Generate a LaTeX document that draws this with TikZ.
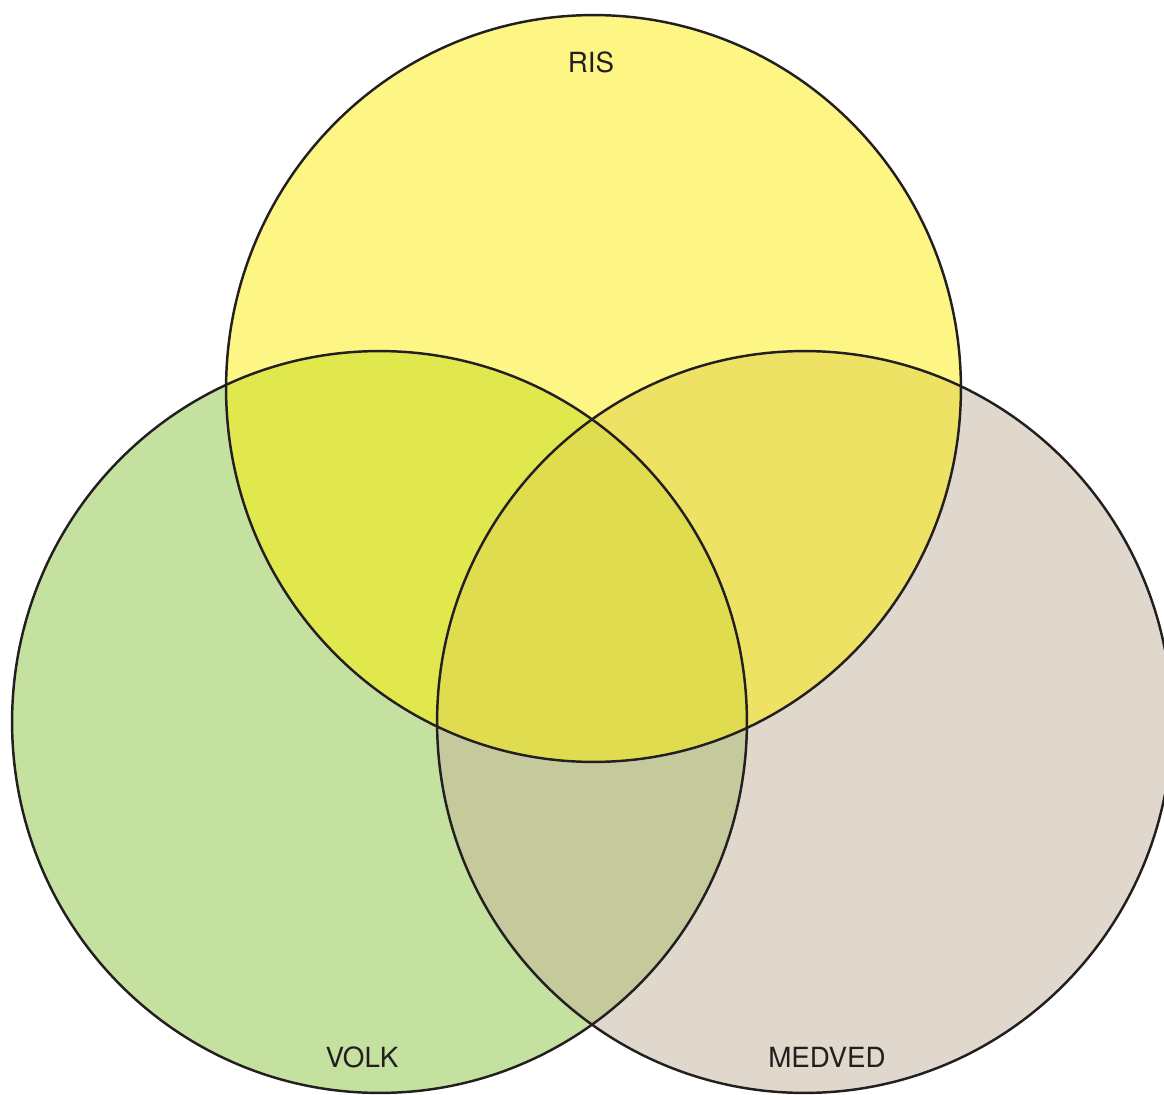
\documentclass[tikz,border=0pt]{standalone}
\usepackage{fontspec}
\setmainfont{TeX Gyre Heros}
\usepackage{tikz}

\definecolor{risyellow}{RGB}{253,245,132}
\definecolor{volkgreen}{RGB}{197,225,160}
\definecolor{medvedbeige}{RGB}{224,216,204}
\definecolor{risvolk}{RGB}{224,232,78}
\definecolor{rismedved}{RGB}{237,226,100}
\definecolor{volkmedved}{RGB}{196,202,156}
\definecolor{allthree}{RGB}{224,220,80}
\definecolor{inkline}{RGB}{35,31,32}

\newcommand{\risset}{(593.5,388.5) ellipse [x radius=7.35cm, y radius=7.47cm]}
\newcommand{\volkset}{(379.5,722) ellipse [x radius=7.35cm, y radius=7.42cm]}
\newcommand{\medvedset}{(804.5,722) ellipse [x radius=7.35cm, y radius=7.42cm]}

\tikzset{
  setline/.style={draw=inkline, line width=1.4pt},
  setlabel/.style={text=inkline, font=\fontsize{15.8}{18}\selectfont, inner sep=0pt}
}

\begin{document}
\begin{tikzpicture}[x=0.02cm, y=-0.02cm]
  \useasboundingbox (0,0) rectangle (1164,1095);

  % single sets
  \fill[volkgreen] \volkset;
  \fill[medvedbeige] \medvedset;
  \fill[risyellow] \risset;

  % overlaps
  \begin{scope}
    \clip \volkset;
    \fill[volkmedved] \medvedset;
    \fill[risvolk] \risset;
  \end{scope}
  \begin{scope}
    \clip \medvedset;
    \fill[rismedved] \risset;
  \end{scope}
  \begin{scope}
    \clip \volkset;
    \clip \medvedset;
    \fill[allthree] \risset;
  \end{scope}

  \draw[setline] \volkset;
  \draw[setline] \medvedset;
  \draw[setline] \risset;

  \node[setlabel] (ris) at (591,62) {RIS};
  \node[setlabel] (volk) at (362,1057) {VOLK};
  \node[setlabel] (medved) at (827,1057) {MEDVED};
\end{tikzpicture}
\end{document}
